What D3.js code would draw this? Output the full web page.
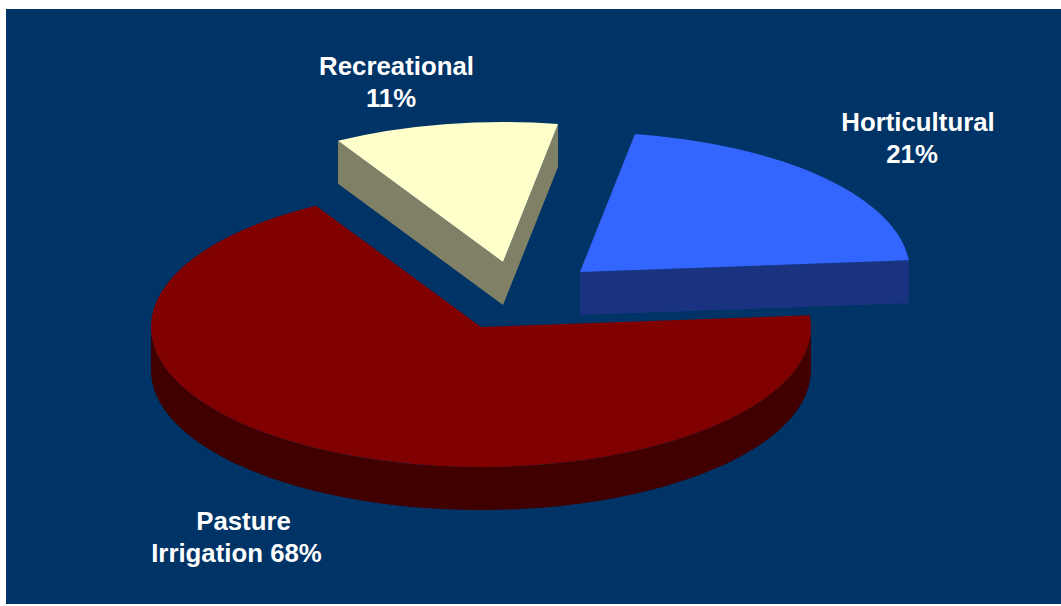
<!DOCTYPE html>
<html>
<head>
<meta charset="utf-8">
<style>
  html, body { margin: 0; padding: 0; background: #fff; }
  svg { display: block; }
  text { font-family: "Liberation Sans", Arial, sans-serif; font-weight: bold; font-size: 25.8px; fill: #fff; text-anchor: middle; }
</style>
<script src="https://cdn.jsdelivr.net/npm/d3@7/dist/d3.min.js"></script>
</head>
<body>
<svg id="chart" width="1061" height="606"></svg>
<script>
// Water use by category, in percent
const categories = ["Pasture Irrigation", "Recreational", "Horticultural"];
const shares = [68, 11, 21];
const labelLines = [["Pasture", "Irrigation 68%"], ["Recreational", "11%"], ["Horticultural", "21%"]];

// Slice appearance
const topColors = ["#800000", "#ffffcc", "#3366ff"];
const sideColors = ["#400000", "#808066", "#1a3380"];

// Disc geometry: tilted circle seen as an ellipse
const rx = 330, ry = 140, depth = 43;
const firstAngle = 85.2 * Math.PI / 180;
const hubs = [[481, 327], [503, 262], [580, 272]];
const labelAnchors = [[236.5, 530], [396.5, 75], [918, 131]];
const lineOffsets = [[7, 0], [0, -5.5], [0, -6]];
const lineGap = 32;

const svg = d3.select("#chart");
svg.append("rect").attr("x", 6).attr("y", 9).attr("width", 1055).attr("height", 595).attr("fill", "#003366");

const slices = d3.pie().sort(null).value(d => d)
  .startAngle(firstAngle).endAngle(firstAngle + 2 * Math.PI)(shares);

const arc = d3.arc().innerRadius(0).outerRadius(rx);
const rimX = a => Math.sin(a) * rx;
const rimY = a => -Math.cos(a) * ry;

// Outer wall of a slice, limited to the part that faces the viewer
function rimWall(s) {
  const from = Math.max(s.startAngle, Math.PI / 2);
  const to = Math.min(s.endAngle, 3 * Math.PI / 2);
  if (to <= from) return null;
  const steps = d3.range(0, 121).map(i => from + (to - from) * i / 120);
  return d3.area().x(rimX).y0(rimY).y1(a => rimY(a) + depth)(steps);
}

// Flat wall along one cut edge, running from the hub out to the rim
function cutWall(a) {
  const pts = [[0, 0], [rimX(a), rimY(a)], [rimX(a), rimY(a) + depth], [0, depth]];
  return d3.line()(pts) + "Z";
}

slices.forEach((s, i) => {
  const g = svg.append("g").attr("transform", `translate(${hubs[i][0]},${hubs[i][1]})`);
  const wall = rimWall(s);
  if (wall) g.append("path").attr("d", wall).attr("fill", sideColors[i]);
  // The large slice hides its own cut walls behind its top face
  if (shares[i] < 50) {
    g.append("path").attr("d", cutWall(s.startAngle)).attr("fill", sideColors[i]);
    g.append("path").attr("d", cutWall(s.endAngle)).attr("fill", sideColors[i]);
  }
  g.append("path")
    .attr("transform", `scale(1,${ry / rx})`)
    .attr("d", arc(s))
    .attr("fill", topColors[i]);
});

labelLines.forEach((lines, i) => {
  const t = svg.append("text").attr("transform", `translate(${labelAnchors[i][0]},${labelAnchors[i][1]})`);
  lines.forEach((line, j) => t.append("tspan").attr("x", lineOffsets[i][j]).attr("y", j * lineGap).text(line));
});
</script>
</body>
</html>
